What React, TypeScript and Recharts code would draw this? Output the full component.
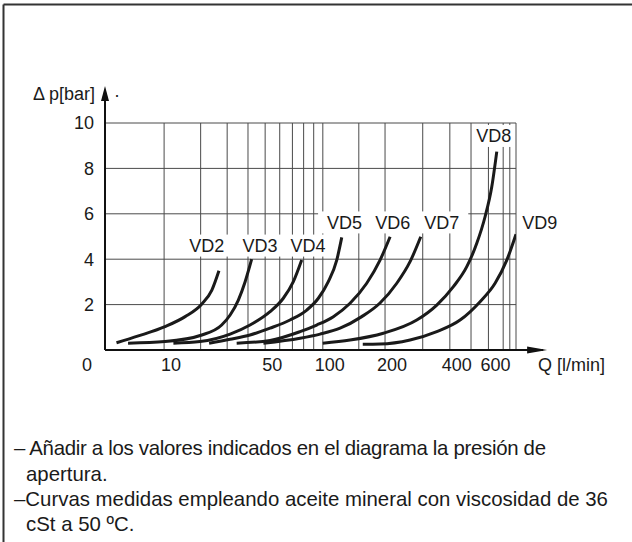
import React from 'react';
import {
  LineChart,
  Line,
  XAxis,
  YAxis,
  CartesianGrid,
  ReferenceLine,
  ReferenceDot,
} from 'recharts';

// ---------------- data ----------------
const SERIES_NAMES = ['VD2', 'VD3', 'VD4', 'VD5', 'VD6', 'VD7', 'VD8', 'VD9'];

// [Q (l/min), Δp (bar)]
const VD2 = [[1.5, 0.32], [4.9, 0.62], [10.2, 1.03], [15.3, 1.47], [20.4, 2.03], [23.9, 2.64], [26.6, 3.49]];
const VD3 = [[3.2, 0.3], [10.2, 0.37], [20.4, 0.66], [27.7, 1.1], [31.3, 1.54], [35.1, 2.2], [38.5, 3.01], [42.0, 4.0]];
const VD4 = [[12.2, 0.3], [19.8, 0.37], [31.3, 0.7], [41.1, 1.1], [53.2, 1.69], [62.7, 2.28], [70.8, 3.01], [78.2, 3.96]];
const VD5 = [[22.9, 0.3], [31.3, 0.47], [41.1, 0.66], [53.2, 0.96], [68.0, 1.32], [83.0, 1.76], [95.0, 2.28], [106.5, 3.01], [117.2, 3.96], [124.0, 4.96]];
const VD6 = [[34.3, 0.3], [53.2, 0.42], [76.7, 0.81], [93.2, 1.1], [112.8, 1.47], [136.1, 2.06], [163.7, 2.94], [189.4, 3.96], [211.3, 4.99]];
const VD7 = [[48.9, 0.3], [76.7, 0.52], [96.9, 0.7], [121.7, 0.96], [155.0, 1.47], [189.4, 2.07], [227.1, 2.94], [262.0, 3.89], [293.8, 4.99]];
const VD8 = [[99.9, 0.3], [136.1, 0.44], [196.4, 0.74], [281.5, 1.32], [348.4, 1.98], [415.3, 2.79], [478.2, 3.67], [531.1, 4.7], [579.3, 5.87], [621.4, 7.19], [654.7, 8.74]];
const VD9 = [[156.7, 0.25], [189.4, 0.26], [262.0, 0.44], [348.4, 0.81], [445.7, 1.32], [549.8, 2.13], [643.2, 2.94], [726.8, 3.96], [800, 5.1]];

const SERIES_POINTS = [VD2, VD3, VD4, VD5, VD6, VD7, VD8, VD9];

// label anchors [Q, Δp]
const LABEL_ANCHORS = [
  [22.06, 4.6], [46.8, 4.6], [84.25, 4.6],
  [128, 5.62], [217.5, 5.62], [367.3, 5.62],
  [634.6, 9.43], [1024, 5.62],
];

const X_GRID = [10, 20, 30, 40, 50, 60, 70, 80, 90, 100, 150, 200, 300, 400, 500, 600, 700, 750, 800];
const X_LABELS = [10, 50, 100, 200, 400, 600];
const Y_TICKS = [0, 2, 4, 6, 8, 10];
const X_DOMAIN = [0, 800];
const Y_DOMAIN = [0, 10];
const X_ARROW_TIP = 1105;
const Y_ARROW_TIP = 11.63;

const X_TITLE = 'Q [l/min]';
const Y_TITLE = 'Δ p[bar]';
const NOTES = [
  '– Añadir a los valores indicados en el diagrama la presión de',
  'apertura.',
  '–Curvas medidas empleando aceite mineral con viscosidad de 36',
  'cSt a 50 ºC.',
];

// ---------------- style ----------------
const FONT = '"Liberation Sans", Arial, Helvetica, sans-serif';
const INK = '#1a1a1a';
const GRID = '#4a4a4a';
const SYMLOG_C = 12;
const NOTE_SIZE = 20.4;

// custom quasi-logarithmic scale: position ∝ log10(Q + c)
function makeFlowScale(): any {
  let dom = [0, 1];
  let rng = [0, 1];
  const t = (v: number) => Math.log10(v + SYMLOG_C);
  const scale: any = (v: any) => {
    const n = Number(v);
    const t0 = t(dom[0]);
    const t1 = t(dom[1]);
    return rng[0] + ((t(n) - t0) / (t1 - t0)) * (rng[1] - rng[0]);
  };
  scale.domain = (d?: any) => {
    if (d === undefined) return dom.slice();
    dom = [Number(d[0]), Number(d[d.length - 1])];
    return scale;
  };
  scale.range = (r?: any) => {
    if (r === undefined) return rng.slice();
    rng = [Number(r[0]), Number(r[r.length - 1])];
    return scale;
  };
  scale.invert = (p: number) => {
    const t0 = t(dom[0]);
    const t1 = t(dom[1]);
    const tv = t0 + ((p - rng[0]) / (rng[1] - rng[0])) * (t1 - t0);
    return Math.pow(10, tv) - SYMLOG_C;
  };
  scale.copy = () => makeFlowScale().domain(dom).range(rng);
  scale.ticks = () => X_GRID.slice();
  scale.tickFormat = () => (v: any) => String(v);
  scale.nice = () => scale;
  scale.clamp = () => scale;
  return scale;
}

const flowScale = makeFlowScale();

const XTick = (props: any) => {
  const { x, y, payload } = props;
  if (!X_LABELS.includes(payload.value)) return <g />;
  return (
    <text x={x + 7} y={y} dy="0.71em" textAnchor="middle" fontSize={18} fontFamily={FONT} fill={INK}>
      {payload.value}
    </text>
  );
};

const YTick = (props: any) => {
  const { x, y, payload } = props;
  if (payload.value === 0) {
    return (
      <text x={x - 7} y={y + 15} dy="0.355em" textAnchor="middle" fontSize={18} fontFamily={FONT} fill={INK}>
        0
      </text>
    );
  }
  return (
    <text x={x} y={y} dy="0.355em" textAnchor="end" fontSize={18} fontFamily={FONT} fill={INK}>
      {payload.value}
    </text>
  );
};

const makeLabelShape = (name: string, boxW: number) => (p: any) => (
  <g>
    <rect x={p.cx - boxW / 2} y={p.cy - 11} width={boxW} height={22} fill="#fff" />
    <text x={p.cx} y={p.cy + 6.4} textAnchor="middle" fontSize={18} fontFamily={FONT} fill={INK}>
      {name}
    </text>
  </g>
);

const upArrow = (p: any) => (
  <path d={`M${p.cx},${p.cy} L${p.cx - 4},${p.cy + 15} L${p.cx + 4},${p.cy + 15} Z`} fill="#111" />
);
const rightArrow = (p: any) => (
  <path d={`M${p.cx},${p.cy} L${p.cx - 20},${p.cy - 3.5} L${p.cx - 20},${p.cy + 3.5} Z`} fill="#111" />
);

export default function App() {
  const seriesData = SERIES_POINTS.map((pts) => pts.map(([q, dp]) => ({ q, dp })));
  return (
    <div style={{ position: 'absolute', left: 0, top: 0, width: 632, height: 542, background: '#fff' }}>
      <div style={{ position: 'absolute', left: 0, top: 0 }}>
        <LineChart width={632} height={400} margin={{ top: 123, right: 116, bottom: 20, left: 45 }}>
          <CartesianGrid stroke={GRID} strokeWidth={1} />
          <XAxis
            type="number"
            dataKey="q"
            domain={X_DOMAIN}
            allowDataOverflow
            scale={flowScale}
            ticks={X_GRID}
            interval={0}
            tick={XTick}
            tickLine={false}
            axisLine={{ stroke: '#111', strokeWidth: 2 }}
            height={30}
          />
          <YAxis
            type="number"
            domain={Y_DOMAIN}
            allowDataOverflow
            ticks={Y_TICKS}
            interval={0}
            tick={YTick}
            tickLine={false}
            tickMargin={5}
            axisLine={{ stroke: '#111', strokeWidth: 2 }}
            width={60}
          />
          <ReferenceLine
            segment={[{ x: 0, y: Y_DOMAIN[1] }, { x: 0, y: Y_ARROW_TIP - 0.4 }]}
            stroke="#111"
            strokeWidth={2}
            ifOverflow="visible"
          />
          <ReferenceLine
            segment={[{ x: X_DOMAIN[1], y: 0 }, { x: X_ARROW_TIP * 0.96, y: 0 }]}
            stroke="#111"
            strokeWidth={2}
            ifOverflow="visible"
          />
          <ReferenceDot x={0} y={Y_ARROW_TIP} r={1} ifOverflow="visible" shape={upArrow} />
          <ReferenceDot x={X_ARROW_TIP} y={0} r={1} ifOverflow="visible" shape={rightArrow} />
          {SERIES_NAMES.map((name, i) => (
            <ReferenceDot
              key={'lbl' + name}
              x={LABEL_ANCHORS[i][0]}
              y={LABEL_ANCHORS[i][1]}
              r={1}
              ifOverflow="visible"
              shape={makeLabelShape(name, i < 6 ? 53 : 40)}
            />
          ))}
          {SERIES_NAMES.map((name, i) => (
            <Line
              key={name}
              name={name}
              data={seriesData[i]}
              dataKey="dp"
              type="monotone"
              stroke={INK}
              strokeWidth={3}
              dot={false}
              activeDot={false}
              isAnimationActive={false}
            />
          ))}
        </LineChart>
      </div>
      <svg
        width={632}
        height={542}
        style={{ position: 'absolute', left: 0, top: 0, pointerEvents: 'none' }}
      >
        <line x1={3.5} y1={4.5} x2={632} y2={4.5} stroke="#333" strokeWidth={2} />
        <line x1={3.5} y1={4.5} x2={3.5} y2={542} stroke="#333" strokeWidth={2} />
        <text x={33} y={100} fontSize={18} fontFamily={FONT} fill={INK}>
          {Y_TITLE}
        </text>
        <text x={114} y={101} fontSize={18} fontFamily={FONT} fill={INK}>
          ·
        </text>
        <text x={538} y={371} fontSize={18} fontFamily={FONT} fill={INK}>
          {X_TITLE}
        </text>
        <text x={14} y={455} fontSize={NOTE_SIZE} fontFamily={FONT} fill={INK} textLength={532} lengthAdjust="spacing">{NOTES[0]}</text>
        <text x={26} y={480.5} fontSize={NOTE_SIZE} fontFamily={FONT} fill={INK}>{NOTES[1]}</text>
        <text x={14} y={506} fontSize={NOTE_SIZE} fontFamily={FONT} fill={INK}>{NOTES[2]}</text>
        <text x={26} y={530.5} fontSize={NOTE_SIZE} fontFamily={FONT} fill={INK}>{NOTES[3]}</text>
      </svg>
    </div>
  );
}
